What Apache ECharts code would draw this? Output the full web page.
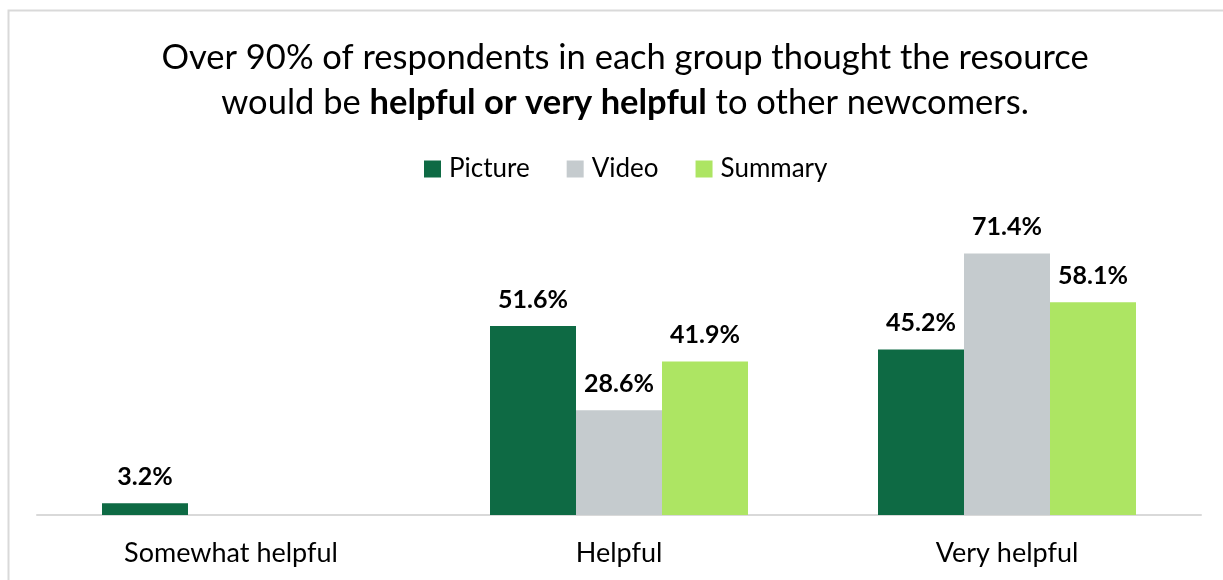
<!DOCTYPE html>
<html>
<head>
<meta charset="utf-8">
<script src="https://cdn.jsdelivr.net/npm/echarts@6/dist/echarts.min.js"></script>
<style>
  html, body { margin: 0; padding: 0; background: #ffffff; }
  #chart { width: 1223px; height: 580px; }
</style>
</head>
<body>
<div id="chart"></div>
<script>
// Response categories and share of respondents (%) per resource type
const categories = ['Somewhat helpful', 'Helpful', 'Very helpful'];
const pictureValues = [3.2, 51.6, 45.2];
const videoValues = [null, 28.6, 71.4];
const summaryValues = [null, 41.9, 58.1];
const seriesNames = ['Picture', 'Video', 'Summary'];
const seriesColors = ['#0e6a44', '#c5cbce', '#ade563'];

const FONT = 'Lato, "Open Sans", sans-serif';

const chart = echarts.init(document.getElementById('chart'));

const labelStyle = {
  show: true,
  position: 'top',
  distance: 14,
  fontFamily: FONT,
  fontWeight: 'bold',
  fontSize: 25,
  color: '#000',
  formatter: p => p.value == null ? '' : p.value.toFixed(1) + '%'
};

function makeSeries(name, values, color) {
  return {
    name: name,
    type: 'bar',
    data: values,
    barWidth: 86,
    barGap: '0%',
    itemStyle: { color: color },
    label: labelStyle,
    emphasis: { disabled: true }
  };
}

chart.setOption({
  animation: false,
  backgroundColor: '#ffffff',
  color: seriesColors,
  graphic: [{
    type: 'rect',
    shape: { x: 8.5, y: 10.5, width: 1300, height: 700 },
    style: { fill: 'none', stroke: '#d9d9d9', lineWidth: 2 },
    silent: true
  }],
  title: {
    left: 620,
    textAlign: 'center',
    top: 30,
    text: 'Over 90% of respondents in each group thought the resource\nwould be {b|helpful or very helpful} to other newcomers.',
    textStyle: {
      fontFamily: FONT,
      fontSize: 34.5,
      fontWeight: 'normal',
      color: '#000',
      lineHeight: 45,
      rich: {
        b: { fontFamily: FONT, fontSize: 34.5, fontWeight: 'bold', color: '#000', lineHeight: 45 }
      }
    }
  },
  legend: {
    top: 151,
    left: 419,
    icon: 'rect',
    itemWidth: 17,
    itemHeight: 17,
    itemGap: 37,
    selectedMode: false,
    textStyle: { fontFamily: FONT, fontSize: 26, color: '#000', padding: [0, 0, 0, 3] },
    data: seriesNames
  },
  grid: { left: 37, right: 22, top: 222, bottom: 65, containLabel: false },
  xAxis: {
    type: 'category',
    data: categories,
    axisLine: { lineStyle: { color: '#d9d9d9', width: 2 } },
    axisTick: { show: false },
    axisLabel: { fontFamily: FONT, fontSize: 27, color: '#000', margin: 25 }
  },
  yAxis: {
    type: 'value',
    min: 0,
    max: 80,
    show: false,
    splitLine: { show: false }
  },
  series: [
    makeSeries(seriesNames[0], pictureValues, seriesColors[0]),
    makeSeries(seriesNames[1], videoValues, seriesColors[1]),
    makeSeries(seriesNames[2], summaryValues, seriesColors[2])
  ]
});
</script>
</body>
</html>
